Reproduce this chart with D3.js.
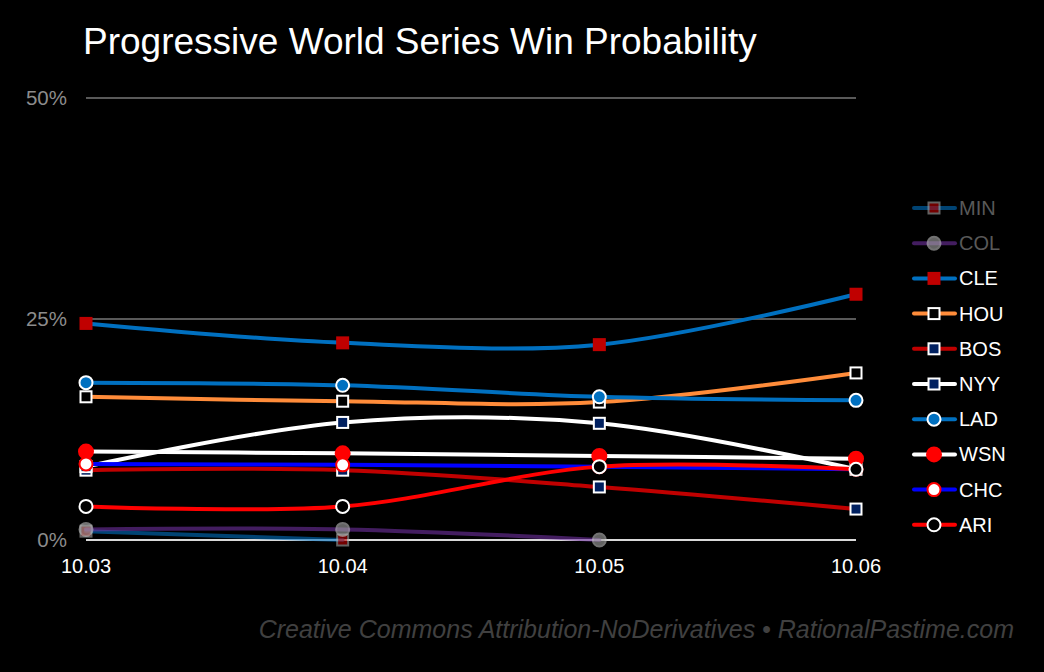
<!DOCTYPE html>
<html>
<head>
<meta charset="utf-8">
<script src="https://cdn.jsdelivr.net/npm/d3@7"></script>
<style>
  html, body { margin: 0; padding: 0; background: #000; }
  svg { display: block; font-family: "Liberation Sans", Arial, sans-serif; }
</style>
</head>
<body>
<svg id="chart" width="1044" height="672"></svg>
<script>
const dates = ["10.03", "10.04", "10.05", "10.06"];
const yTicks = [0, 0.25, 0.5];
const teams = ["MIN", "COL", "CLE", "HOU", "BOS", "NYY", "LAD", "WSN", "CHC", "ARI"];
const MIN = [0.010, 0.000, null, null];
const COL = [0.012, 0.012, 0.000, null];
const CLE = [0.245, 0.223, 0.221, 0.278];
const HOU = [0.162, 0.157, 0.156, 0.189];
const BOS = [0.079, 0.079, 0.060, 0.035];
const NYY = [0.083, 0.133, 0.132, 0.080];
const LAD = [0.178, 0.175, 0.162, 0.158];
const WSN = [0.100, 0.098, 0.095, 0.092];
const CHC = [0.086, 0.085, 0.083, 0.080];
const ARI = [0.038, 0.038, 0.083, 0.080];
const values = { MIN, COL, CLE, HOU, BOS, NYY, LAD, WSN, CHC, ARI };

const styles = {
  MIN: { line: "#0070c0", op: 0.6, shape: "square", fill: "#c00000", stroke: "#a6a6a6", mop: 0.6, text: "#595959" },
  COL: { line: "#7030a0", op: 0.6, shape: "circle", fill: "#a6a6a6", stroke: "#bfbfbf", mop: 0.6, text: "#595959" },
  CLE: { line: "#0070c0", op: 1, shape: "square", fill: "#c00000", stroke: "#c00000", mop: 1, text: "#fff" },
  HOU: { line: "#ff8c3a", op: 1, shape: "square", fill: "#000", stroke: "#fff", mop: 1, text: "#fff" },
  BOS: { line: "#c00000", op: 1, shape: "square", fill: "#002060", stroke: "#fff", mop: 1, text: "#fff" },
  NYY: { line: "#ffffff", op: 1, shape: "square", fill: "#002060", stroke: "#fff", mop: 1, text: "#fff" },
  LAD: { line: "#0070c0", op: 1, shape: "circle", fill: "#0070c0", stroke: "#fff", mop: 1, text: "#fff" },
  WSN: { line: "#ffffff", op: 1, shape: "bigcircle", fill: "#ff0000", stroke: "#ff0000", mop: 1, text: "#fff" },
  CHC: { line: "#0000ff", op: 1, shape: "circle", fill: "#fff", stroke: "#ff0000", mop: 1, text: "#fff" },
  ARI: { line: "#ff0000", op: 1, shape: "circle", fill: "#000", stroke: "#fff", mop: 1, text: "#fff" }
};

const svg = d3.select("#chart");
const x = d3.scalePoint().domain(dates).range([86, 856]);
const y = d3.scaleLinear().domain([0, 0.5]).range([540, 98]);

// title
svg.append("text").attr("x", 83).attr("y", 54).attr("fill", "#fff")
  .attr("font-size", 37).text("Progressive World Series Win Probability");

// grid
svg.append("g").selectAll("line").data(yTicks).join("line")
  .attr("x1", 86).attr("x2", 856)
  .attr("y1", d => y(d)).attr("y2", d => y(d))
  .attr("stroke", d => d === 0 ? "#d9d9d9" : "#595959")
  .attr("stroke-width", 2);

// y axis labels
svg.append("g").selectAll("text").data(yTicks).join("text")
  .attr("x", 67).attr("y", d => y(d) + 7)
  .attr("text-anchor", "end").attr("fill", "#8c8c8c").attr("font-size", 20.5)
  .text(d => d3.format(".0%")(d));

// x axis labels
svg.append("g").selectAll("text").data(dates).join("text")
  .attr("x", d => x(d)).attr("y", 573)
  .attr("text-anchor", "middle").attr("fill", "#fff").attr("font-size", 20)
  .text(d => d);

const line = d3.line()
  .defined(d => d.v != null)
  .x(d => x(d.date)).y(d => y(d.v))
  .curve(d3.curveCatmullRom.alpha(0.5));

function drawMarker(g, st, cx, cy) {
  if (st.shape === "square") {
    g.append("rect").attr("x", cx - 5.5).attr("y", cy - 5.5).attr("width", 11).attr("height", 11)
      .attr("fill", st.fill).attr("stroke", st.stroke).attr("stroke-width", 2).attr("opacity", st.mop);
  } else {
    const r = st.shape === "bigcircle" ? 7 : 6.5;
    g.append("circle").attr("cx", cx).attr("cy", cy).attr("r", r)
      .attr("fill", st.fill).attr("stroke", st.stroke).attr("stroke-width", 2).attr("opacity", st.mop);
  }
}

const plot = svg.append("g");
teams.forEach(t => {
  const st = styles[t];
  const pts = dates.map((d, i) => ({ date: d, v: values[t][i] }));
  const g = plot.append("g");
  g.append("path").datum(pts).attr("d", line)
    .attr("fill", "none").attr("stroke", st.line).attr("stroke-width", 4)
    .attr("stroke-opacity", st.op).attr("stroke-linecap", "round");
  pts.filter(p => p.v != null).forEach(p => drawMarker(g, st, x(p.date), y(p.v)));
});

// legend
const legend = svg.append("g");
teams.forEach((t, i) => {
  const st = styles[t];
  const ly = 208 + i * 35.2;
  const g = legend.append("g");
  g.append("line").attr("x1", 914).attr("x2", 955).attr("y1", ly).attr("y2", ly)
    .attr("stroke", st.line).attr("stroke-width", 4).attr("stroke-linecap", "round")
    .attr("stroke-opacity", st.op);
  drawMarker(g, st, 934, ly);
  g.append("text").attr("x", 959).attr("y", ly + 7).attr("fill", st.text)
    .attr("font-size", 20).text(t);
});

// footer
svg.append("text").attr("x", 1014).attr("y", 638).attr("text-anchor", "end")
  .attr("fill", "#404040").attr("font-size", 25).attr("font-style", "italic")
  .text("Creative Commons Attribution-NoDerivatives • RationalPastime.com");
</script>
</body>
</html>
